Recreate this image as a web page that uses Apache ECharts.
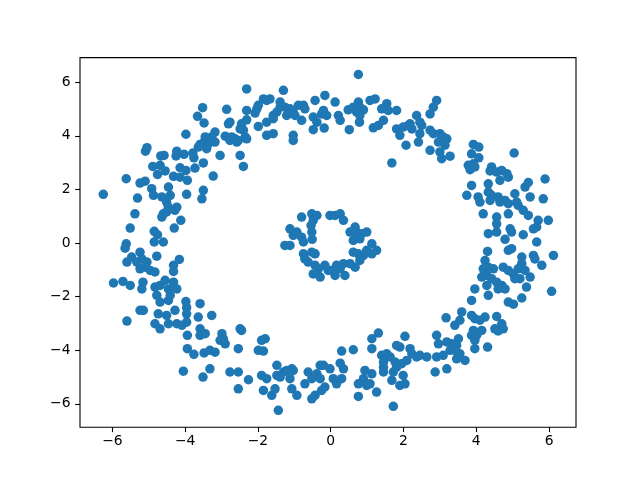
<!DOCTYPE html>
<html>
<head>
<meta charset="utf-8">
<script src="https://cdn.jsdelivr.net/npm/echarts@6/dist/echarts.min.js"></script>
<style>html,body{margin:0;padding:0;background:#fff;}#c{width:640px;height:480px;}</style>
</head>
<body>
<div id="c"></div>
<script>
const xTicks = [-6, -4, -2, 0, 2, 4, 6];
const yTicks = [-6, -4, -2, 0, 2, 4, 6];

const outerRing = [
[-3.52,5.05],[-3.66,4.73],[-3.48,4.48],[-3.98,4.06],[-5.05,3.56],[-5.09,3.43],[-4.67,3.25],[-4.58,3.27],[-4.23,3.43],[-4.25,3.25],[-4.03,3.31],[-3.79,3.36],[-3.76,3.18],[-3.64,3.58],[-3.59,3.68],[-3.48,3.77],[-3.50,2.99],[-4.89,2.86],[-4.69,2.90],[-4.76,2.56],[-4.55,2.69],[-4.14,2.81],[-3.98,2.71],[-3.73,2.80],[-4.32,2.49],[-4.14,2.46],[-3.94,2.34],[-5.62,2.40],[-5.10,2.31],[-5.24,2.24],
[-2.31,5.75],[-1.30,5.70],[-0.16,5.51],[-1.85,5.38],[-1.67,5.38],[-1.76,5.32],[-0.43,5.32],[-1.99,5.14],[-2.03,5.01],[-1.39,5.26],[-1.39,5.07],[-1.26,5.07],[-1.12,5.01],[-0.89,5.14],[-0.75,5.14],[-0.71,5.01],[-2.86,4.99],[-2.31,4.95],[-1.48,4.89],[-1.58,4.76],[-2.08,4.85],[-1.21,4.76],[-1.03,4.89],[-0.98,4.76],[-0.48,4.70],[-0.20,4.95],[-0.25,4.82],[-0.11,4.76],[-0.80,4.58],[-2.77,4.51],[-2.81,4.45],[-2.31,4.60],[-2.45,4.45],[-1.58,4.64],[-1.76,4.51],[-1.99,4.35],[-0.38,4.51],[-0.48,4.23],[-0.18,4.29],[-2.49,4.26],[-2.40,4.21],[-3.18,4.14],[-3.27,3.96],[-3.45,3.96],[-2.90,3.99],[-2.72,3.96],[-2.63,3.89],[-2.54,3.83],[-2.35,3.96],[-2.31,3.89],[-1.76,4.02],[-1.58,4.08],[-1.03,4.02],[-1.03,3.83],[-3.18,3.77],[-3.36,3.71],[-3.41,3.52],[-2.77,3.83],[-2.58,3.77],[-3.04,3.27],[-2.49,3.27],[-2.40,2.86],[-3.23,2.50],
[0.76,6.29],[0.12,5.26],[0.21,4.76],[0.26,4.58],[0.48,4.97],[0.62,5.07],[0.76,5.26],[0.80,5.07],[0.90,4.97],[0.71,4.89],[0.80,4.76],[0.79,4.51],[0.51,4.23],[1.08,5.32],[1.22,5.38],[1.40,5.01],[1.54,5.20],[1.58,4.95],[1.81,4.95],[1.17,4.30],[1.31,4.39],[1.45,4.58],[1.81,4.26],[1.90,4.02],[1.99,4.33],[2.13,4.39],[2.23,4.26],[2.18,4.45],[2.07,3.65],[2.36,4.76],[2.45,4.51],[2.50,4.39],[2.45,4.08],[2.41,3.77],[2.91,5.32],[2.82,5.07],[2.73,4.82],[2.73,4.21],[2.82,4.08],[3.00,4.08],[3.09,3.96],[3.19,3.89],[2.96,3.77],[3.14,3.65],[2.73,3.46],[3.00,3.40],[3.05,3.15],[3.28,3.24],[1.68,2.99],
[3.92,3.68],[4.07,3.58],[3.87,3.33],[4.07,3.18],[3.78,2.90],[3.92,2.96],[3.83,2.74],[3.96,2.84],[5.04,3.36],[4.42,2.84],[4.38,2.69],[4.56,2.65],[4.70,2.71],[4.84,2.59],[4.88,2.46],[4.65,2.34],[5.89,2.39],
[-6.25,1.82],[-4.92,2.03],[-4.87,1.78],[-4.46,2.09],[-5.31,1.68],[-4.64,1.72],[-4.41,1.78],[-4.51,1.53],[-4.46,1.34],[-4.23,1.34],[-4.28,1.22],[-4.60,1.09],[-4.64,0.97],[-4.51,1.16],[-3.96,1.82],[-3.50,1.97],[-3.54,1.65],[-5.38,1.09],[-4.12,0.85],[-4.30,0.56],[-5.51,0.56],[-4.85,0.44],[-4.76,0.31],[-4.85,0.04],[-4.60,0.04],[-5.62,-0.03],[-5.65,-0.19],[-5.47,-0.52],[-5.24,-0.34],[-5.19,-0.59],[-5.33,-0.71],[-5.05,-0.71],[-5.10,-0.90],[-4.78,-0.49],[-4.96,-1.02],[-4.83,-1.08],[-5.24,-0.96],[-5.60,-0.71],[-4.16,-0.61],[-4.32,-0.83],[-4.32,-1.06],[-5.97,-1.49],[-5.71,-1.43],[-5.51,-1.58],[-5.16,-1.46],[-5.19,-1.71],[-4.83,-1.64],[-4.69,-1.58],[-4.55,-1.39],[-4.46,-1.71],[-4.32,-1.46],[-4.23,-1.71],[-4.78,-1.95],[-4.69,-2.20],[-4.46,-2.14],[-4.41,-1.95],[-3.98,-2.18],[-3.59,-2.26],[-3.96,-2.41],
[3.87,2.15],[3.74,1.78],[4.05,1.72],[4.10,1.53],[4.33,2.21],[4.33,1.90],[4.42,1.78],[4.38,1.59],[4.60,1.72],[4.65,1.53],[4.79,1.59],[4.88,1.47],[5.06,1.84],[5.11,1.53],[5.34,2.09],[5.43,2.26],[5.48,1.72],[5.84,1.65],[4.19,1.09],[4.56,0.97],[4.56,0.72],[4.88,1.09],[5.15,1.41],[5.29,1.22],[5.43,1.03],[5.70,0.85],[5.98,0.85],[5.66,0.60],[5.57,0.53],[4.33,0.35],[4.56,0.41],[4.93,0.53],[4.97,0.41],[5.29,0.31],[4.79,0.14],[5.66,0.04],[4.31,-0.31],[4.88,-0.27],[4.97,-0.21],[4.24,-0.65],[4.19,-0.96],[4.33,-0.90],[4.47,-0.96],[4.29,-1.21],[4.15,-1.27],[4.42,-1.33],[5.25,-0.52],[5.57,-0.46],[5.61,-0.59],[5.80,-0.83],[6.12,-0.46],[4.74,-0.90],[4.88,-1.02],[5.02,-1.15],[5.15,-0.96],[5.25,-0.77],[5.34,-1.02],[5.20,-1.33],[5.06,-1.33],[5.48,-1.27],[4.56,-1.46],[4.70,-1.58],[4.79,-1.71],[4.60,-1.71],[4.29,-1.58],[4.33,-1.95],[3.96,-1.71],[3.87,-2.14],[5.38,-1.64],[5.25,-2.05],[4.88,-2.20],[5.02,-2.28],[6.07,-1.80],
[-5.24,-2.51],[-5.15,-2.51],[-4.74,-2.64],[-4.51,-2.70],[-4.28,-2.51],[-3.96,-2.64],[-3.64,-2.76],[-5.60,-2.91],[-4.83,-3.01],[-4.69,-3.20],[-4.46,-3.01],[-4.23,-3.01],[-3.96,-2.95],[-4.09,-3.07],[-3.59,-3.20],[-3.59,-3.44],[-3.94,-3.44],[-3.45,-3.38],[-3.94,-3.94],[-3.76,-4.15],[-3.48,-4.10],[-4.05,-4.78],[-3.51,-5.00],
[-3.27,-2.70],[-2.99,-3.38],[-2.95,-3.57],[-2.90,-3.76],[-3.04,-3.63],[-2.49,-3.20],[-2.45,-3.26],[-2.54,-3.94],[-3.32,-4.00],[-3.18,-4.07],[-1.90,-3.63],[-1.80,-3.57],[-1.99,-4.00],[-1.85,-4.03],[-3.32,-4.69],[-2.77,-4.81],[-2.54,-4.81],[-2.26,-5.10],[-2.54,-5.44],[-1.90,-4.94],[-1.76,-5.06],[-1.85,-5.50],[-1.62,-5.68],[-1.53,-5.44],[-1.48,-4.56],[-1.48,-4.94],[-1.39,-5.00],[-1.30,-4.81],[-1.21,-4.75],[-1.12,-5.06],[-1.07,-4.69],[-1.03,-4.75],[-1.07,-5.44],[-0.93,-5.68],[-1.44,-6.24],[-0.62,-4.81],[-0.52,-5.06],[-0.71,-5.25],[-0.38,-4.88],[-0.29,-4.56],[-0.20,-4.56],[-0.29,-5.06],[-0.25,-5.50],[-0.43,-5.68],[-0.52,-5.81],[-0.16,-5.37],
[3.17,-2.79],[1.31,-3.36],[1.13,-3.57],[1.13,-3.94],[0.30,-4.03],[0.62,-3.98],[2.04,-3.48],[2.18,-3.94],[1.90,-3.88],[1.81,-3.82],[2.91,-3.44],[2.96,-3.76],[3.19,-3.69],[3.32,-3.76],[3.28,-4.00],[3.41,-4.00],[1.40,-4.19],[1.54,-4.13],[1.63,-4.25],[1.45,-4.44],[1.77,-4.44],[1.45,-4.63],[1.81,-4.63],[1.95,-4.50],[2.09,-4.38],[2.23,-4.13],[2.36,-4.25],[2.45,-4.19],[2.64,-4.25],[2.91,-4.25],[3.09,-4.19],[0.26,-4.48],[0.35,-4.69],[-0.02,-4.69],[1.99,-4.94],[2.04,-5.25],[1.90,-5.31],[1.68,-5.12],[1.72,-4.81],[1.45,-4.81],[2.87,-4.81],[3.19,-4.69],[0.94,-4.75],[1.13,-4.88],[0.90,-5.06],[0.76,-5.25],[0.99,-5.31],[1.08,-5.25],[1.26,-5.56],[0.16,-5.25],[0.07,-5.06],[0.30,-5.06],[0.76,-5.72],[1.72,-6.09],
[3.60,-2.57],[3.87,-2.70],[3.96,-2.82],[4.10,-2.88],[4.24,-2.76],[4.56,-2.74],[4.70,-3.01],[4.74,-3.20],[4.51,-3.20],[4.60,-3.28],[3.55,-2.88],[3.41,-3.07],[3.92,-3.26],[4.01,-3.44],[3.96,-3.63],[3.87,-3.44],[4.15,-3.26],[3.51,-3.57],[3.46,-3.82],[3.96,-3.94],[4.31,-3.88],[3.55,-4.13],[3.46,-4.32],[3.69,-4.38]
];

const innerRing = [
[-0.80,0.97],[-0.52,1.09],[-0.38,1.03],[-0.48,0.85],[-0.54,0.66],[-1.12,0.53],[-1.03,0.29],[-0.93,0.41],[-0.80,0.22],[-0.75,0.04],[-0.52,0.41],[-0.51,0.14],[-1.26,-0.09],[-1.12,-0.09],[-0.75,-0.40],[-0.71,-0.59],[-0.52,-0.34],[-0.43,-0.40],[-0.62,-0.71],[-0.43,-0.83],[-0.34,-0.96],[-0.48,-1.15],[-0.29,-1.27],[-0.16,-0.83],[-0.07,-1.02],
[-0.02,1.03],[0.12,1.03],[0.26,1.09],[0.35,0.85],[0.67,0.60],[0.53,0.41],[0.71,0.41],[0.85,0.35],[0.99,0.41],[0.62,0.10],[0.80,0.16],[1.13,-0.03],[1.26,-0.27],[1.13,-0.40],[0.99,-0.27],[0.90,-0.46],[0.62,-0.34],[0.76,-0.40],[0.80,-0.65],[0.67,-0.90],[0.53,-0.77],[0.35,-0.77],[0.16,-0.83],[0.03,-1.02],[0.12,-1.21],[0.39,-1.21],[0.26,-0.96]
];

const color = '#1f77b4';
const fmt = v => String(v).replace('-', '\u2212');
const labelStyle = { color: '#000', fontSize: 13.9, fontFamily: 'DejaVu Sans' };

const chart = echarts.init(document.getElementById('c'), null, { renderer: 'canvas' });
chart.setOption({
  animation: false,
  grid: { left: 80, right: 64, top: 57.6, bottom: 52.8, show: true, borderColor: '#000', borderWidth: 1.1, backgroundColor: 'transparent' },
  xAxis: {
    type: 'value', min: -6.89, max: 6.74, position: 'bottom',
    axisLine: { show: false, onZero: false },
    splitLine: { show: false },
    axisTick: { show: true, inside: false, length: 4.9, customValues: xTicks, lineStyle: { color: '#000', width: 1.1 } },
    axisLabel: Object.assign({ margin: 7, customValues: xTicks, formatter: fmt }, labelStyle)
  },
  yAxis: {
    type: 'value', min: -6.87, max: 6.92, position: 'left',
    axisLine: { show: false, onZero: false },
    splitLine: { show: false },
    axisTick: { show: true, inside: false, length: 4.9, customValues: yTicks, lineStyle: { color: '#000', width: 1.1 } },
    axisLabel: Object.assign({ margin: 9.5, customValues: yTicks, formatter: fmt }, labelStyle)
  },
  series: [
    { type: 'scatter', data: outerRing, symbol: 'circle', symbolSize: 9.5, itemStyle: { color: color, opacity: 1 } },
    { type: 'scatter', data: innerRing, symbol: 'circle', symbolSize: 9.5, itemStyle: { color: color, opacity: 1 } }
  ]
});
</script>
</body>
</html>
